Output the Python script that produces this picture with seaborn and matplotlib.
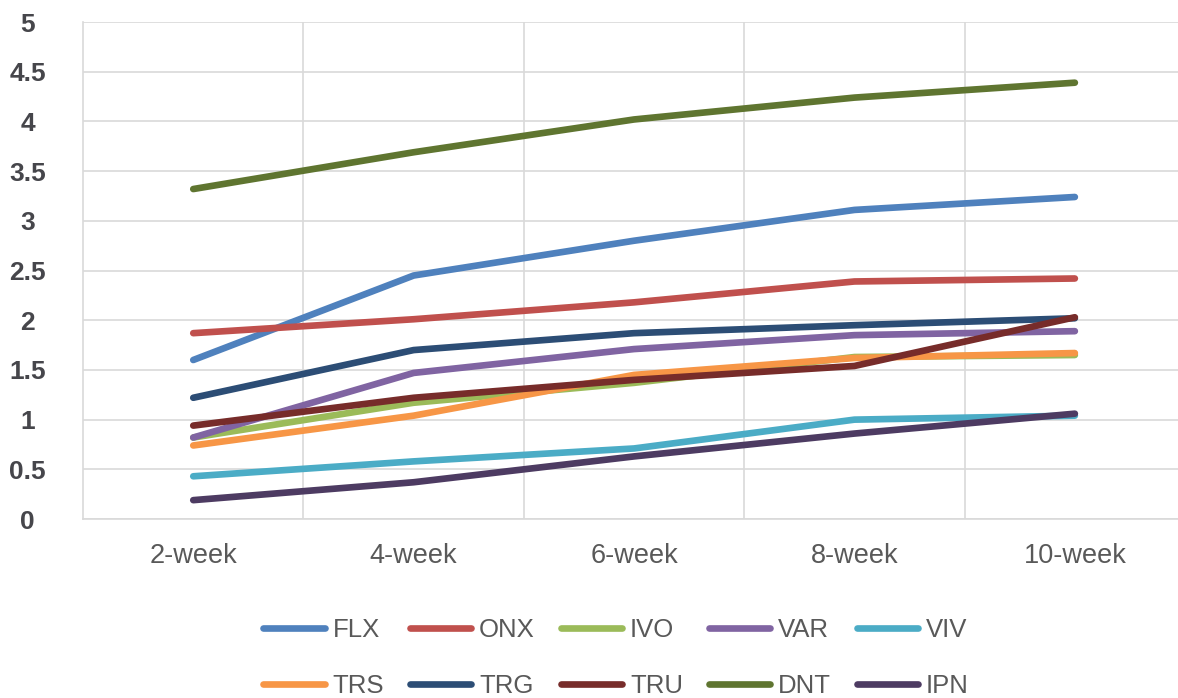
import numpy as np
import pandas as pd
import matplotlib
matplotlib.use("Agg")
import matplotlib.pyplot as plt
from matplotlib.lines import Line2D
import seaborn as sns

# ---------------------------------------------------------------------------
# Data
# ---------------------------------------------------------------------------
periods = ["2-week", "4-week", "6-week", "8-week", "10-week"]

flx = [1.60, 2.45, 2.80, 3.11, 3.24]
onx = [1.87, 2.01, 2.18, 2.39, 2.42]
ivo = [0.82, 1.17, 1.37, 1.63, 1.65]
var = [0.82, 1.47, 1.71, 1.85, 1.89]
viv = [0.43, 0.58, 0.71, 1.00, 1.04]
trs = [0.74, 1.04, 1.45, 1.62, 1.67]
trg = [1.22, 1.70, 1.87, 1.95, 2.02]
tru = [0.94, 1.22, 1.40, 1.54, 2.03]
dnt = [3.32, 3.69, 4.02, 4.24, 4.39]
ipn = [0.19, 0.37, 0.63, 0.86, 1.06]

series_names = ["FLX", "ONX", "IVO", "VAR", "VIV", "TRS", "TRG", "TRU", "DNT", "IPN"]
series_values = [flx, onx, ivo, var, viv, trs, trg, tru, dnt, ipn]
colors = ["#4F81BD", "#C0504D", "#9BBB59", "#8064A2", "#4BACC6",
          "#F79646", "#2C4D75", "#772C2A", "#5F7530", "#4D3B62"]

# long-form table for seaborn
rows = []
for name, vals in zip(series_names, series_values):
    for i, v in enumerate(vals):
        rows.append({"period": i, "label": periods[i], "series": name, "value": v})
df = pd.DataFrame(rows)

# ---------------------------------------------------------------------------
# Plot
# ---------------------------------------------------------------------------
sns.set_theme(style="white")
plt.rcParams["font.family"] = ["Liberation Sans", "DejaVu Sans"]

fig = plt.figure(figsize=(11.78, 6.98), dpi=100)
ax = fig.add_axes([0.0705, 0.2564, 0.9355, 0.712])

lw = 4.8
sns.lineplot(data=df, x="period", y="value", hue="series", hue_order=series_names,
             palette=colors, linewidth=lw, solid_capstyle="round",
             legend=False, ax=ax)

grid_color = "#D9D9D9"
ax.set_xlim(-0.5, 4.5)
ax.set_ylim(0, 5)
ax.set_xticks(range(len(periods)))
ax.set_xticklabels(periods)
ax.set_xticks(np.arange(0.5, 4.5, 1.0), minor=True)
ax.set_yticks(np.arange(0, 5.01, 0.5))
ax.set_yticklabels(["0", "0.5", "1", "1.5", "2", "2.5", "3", "3.5", "4", "4.5", "5"])

ax.grid(axis="y", which="major", color=grid_color, linewidth=1.2)
ax.grid(axis="x", which="minor", color=grid_color, linewidth=1.2)
ax.grid(axis="x", which="major", visible=False)
ax.set_axisbelow(True)

for side in ["top", "right"]:
    ax.spines[side].set_visible(False)
for side in ["left", "bottom"]:
    ax.spines[side].set_color(grid_color)
    ax.spines[side].set_linewidth(1.2)

ax.tick_params(axis="x", which="both", length=0, pad=17, labelsize=19.5, labelcolor="#595959")
ax.tick_params(axis="y", length=0, pad=40, labelsize=19, labelcolor="#46464B")
for lab in ax.get_yticklabels():
    lab.set_fontweight("bold")
    lab.set_horizontalalignment("center")
for lab in ax.get_xticklabels():
    lab.set_x(lab.get_position()[0])
ax.set_xlabel("")
ax.set_ylabel("")

# legend: two rows, read left-to-right
handles = [Line2D([0], [0], color=c, linewidth=lw, solid_capstyle="round") for c in colors]
order = [0, 5, 1, 6, 2, 7, 3, 8, 4, 9]
fig.legend([handles[i] for i in order], [series_names[i] for i in order],
           loc="center", bbox_to_anchor=(0.523, 0.057), ncol=5, frameon=False,
           fontsize=18.5, handlelength=2.4, handletextpad=0.3, columnspacing=1.0,
           labelspacing=1.25, labelcolor="#595959")

fig.savefig("out.png", dpi=100)
